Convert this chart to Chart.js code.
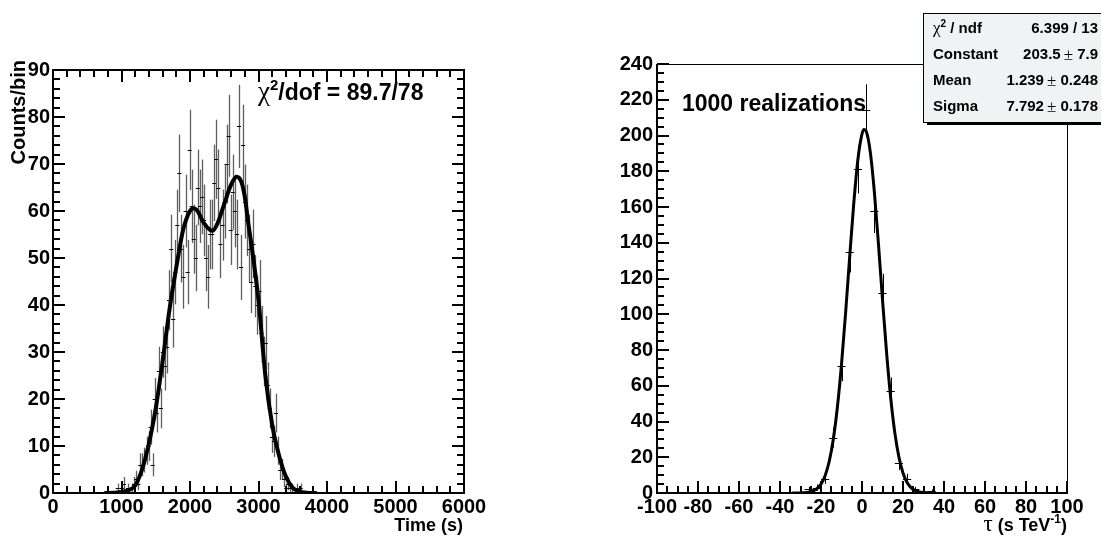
<!DOCTYPE html>
<html>
<head>
<meta charset="utf-8">
<script src="https://cdn.jsdelivr.net/npm/chart.js@4.4.1/dist/chart.umd.min.js"></script>
<style>
  html, body { margin: 0; padding: 0; background: #fff; }
  #wrap { position: relative; width: 1101px; height: 537px; overflow: hidden; }
  canvas { position: absolute; top: 0; }
  #timeChart { left: 0; }
  #tauChart { left: 550px; }
</style>
</head>
<body>
<div id="wrap">
  <canvas id="timeChart" width="550" height="537"></canvas>
  <canvas id="tauChart" width="551" height="537"></canvas>
</div>
<script>
const SANS = "'Liberation Sans', Arial, Helvetica, sans-serif";
const SERIF = "'Liberation Serif', 'DejaVu Serif', serif";

// left panel : counts per 30 s bin (bin centres)
const timeCenters = [
  915, 945, 975, 1005, 1035, 1065, 1095, 1125, 1155, 1185,
  1215, 1245, 1275, 1305, 1335, 1365, 1395, 1425, 1455, 1485,
  1515, 1545, 1575, 1605, 1635, 1665, 1695, 1725, 1755, 1785,
  1815, 1845, 1875, 1905, 1935, 1965, 1995, 2025, 2055, 2085,
  2115, 2145, 2175, 2205, 2235, 2265, 2295, 2325, 2355, 2385,
  2415, 2445, 2475, 2505, 2535, 2565, 2595, 2625, 2655, 2685,
  2715, 2745, 2775, 2805, 2835, 2865, 2895, 2925, 2955, 2985,
  3015, 3045, 3075, 3105, 3135, 3165, 3195, 3225, 3255, 3285,
  3315, 3345, 3375, 3405, 3435, 3465, 3495, 3525, 3555, 3585,
  3615, 3645, 3675,
];
const timeCounts = [
  0, 1, 0, 1, 2, 0, 1, 0, 1, 2,
  3, 2, 6, 6, 7, 9, 10, 14, 6, 20,
  17, 26, 18, 30, 27, 31, 41, 52, 37, 47,
  57, 68, 52, 46, 60, 47, 73, 61, 54, 50,
  65, 61, 63, 58, 50, 46, 55, 55, 66, 71,
  65, 53, 57, 62, 70, 76, 56, 64, 60, 55,
  78, 48, 74, 62, 58, 52, 45, 53, 44, 40,
  43, 34, 28, 32, 23, 18, 12, 11, 17, 9,
  5, 5, 3, 1, 2, 1, 1, 0, 1, 0,
  1, 0, 0,
];
// two-pulse fit
const fitTime = [
  750, 900, 1000, 1100, 1200, 1300, 1400, 1450, 1500, 1600, 1700, 1800,
  1900, 2000, 2050, 2100, 2200, 2300, 2330, 2400, 2500, 2600, 2680, 2750,
  2800, 2850, 2900, 3000, 3100, 3200, 3300, 3400, 3500, 3600, 3700, 3850,
];
const fitCounts = [
  0, 0.05, 0.2, 0.6, 1.6, 5, 10.5, 14, 18, 28, 39, 48,
  56, 60, 60.6, 60.2, 57.5, 55.9, 55.8, 57.3, 61.5, 65.6, 67.3, 66.2,
  63, 57.5, 52.5, 41, 25, 14.5, 8, 3.5, 1.1, 0.3, 0.08, 0,
];
const timeLabels = [0, 1000, 2000, 3000, 4000, 5000, 6000];
const countLabels = [0, 10, 20, 30, 40, 50, 60, 70, 80, 90];

// right panel : 1000 realizations, 4 s/TeV bins
const tauCenters = [-26, -22, -18, -14, -10, -6, -2, 2, 6, 10, 14, 18, 22, 26, 30, 34];
const tauCounts = [2, 3, 8, 31, 71, 135, 181, 214, 158, 112, 57, 17, 8, 2, 0, 1];
const gaussTau = [
  -34, -32, -30, -28, -26, -24, -22, -20, -18, -16, -14, -12, -10, -8, -6, -4, -2, 0,
  1, 2, 4, 6, 8, 10, 12, 14, 16, 18, 20, 22, 24, 26, 28, 30, 32, 34,
];
const gaussCounts = [
  0.01, 0.02, 0.07, 0.18, 0.45, 1.07, 2.38, 4.96, 9.66, 17.6, 30.1, 48.1, 71.9, 100.8, 132.2, 162.3, 186.6, 200.9,
  203.4, 202.5, 191.1, 168.8, 139.7, 108.2, 78.4, 53.2, 33.8, 20.1, 11.2, 5.85, 2.86, 1.31, 0.56, 0.22, 0.08, 0.03,
];
const tauLabels = [-100, -80, -60, -40, -20, 0, 20, 40, 60, 80, 100];
const realLabels = [0, 20, 40, 60, 80, 100, 120, 140, 160, 180, 200, 220, 240];
const statNames = ["Constant", "Mean", "Sigma"];
const statValues = ["203.5", "1.239", "7.792"];
const statErrors = ["7.9", "0.248", "0.178"];

function buildAxis(pos, min, max, step, labels, size, pad) {
  return {
    type: "linear",
    position: pos,
    min: min,
    max: max,
    afterFit: (scale) => {
      if (pos === "left") scale.width = size;
      else scale.height = size;
    },
    grid: { display: false, drawTicks: false },
    border: { display: false },
    ticks: {
      stepSize: step,
      autoSkip: false,
      maxRotation: 0,
      minRotation: 0,
      padding: pad,
      color: "#000",
      font: { family: SANS, size: 20, weight: "bold" },
      callback: (v) => (labels.includes(v) ? String(v) : ""),
    },
  };
}

function drawErrorBars(chart, centers, counts, half, barColor, barWidth) {
  const { ctx, scales: { x, y } } = chart;
  ctx.save();
  centers.forEach((c, i) => {
    const n = counts[i];
    if (n === 0) return;
    const err = Math.sqrt(n);
    const px = Math.round(x.getPixelForValue(c)) + 0.5;
    const py = Math.round(y.getPixelForValue(n)) + 0.5;
    ctx.strokeStyle = barColor;
    ctx.lineWidth = barWidth;
    ctx.beginPath();
    ctx.moveTo(px, y.getPixelForValue(Math.max(n - err, 0)));
    ctx.lineTo(px, y.getPixelForValue(n + err));
    ctx.stroke();
    ctx.strokeStyle = "#000";
    ctx.lineWidth = 1;
    ctx.beginPath();
    ctx.moveTo(x.getPixelForValue(c - half), py);
    ctx.lineTo(x.getPixelForValue(c + half), py);
    ctx.stroke();
  });
  ctx.restore();
}

// ROOT style ticks, pointing into the frame
function drawTicks(chart, scale, side, major, majorLen, minorLen) {
  const { ctx, chartArea: a } = chart;
  ctx.save();
  ctx.strokeStyle = "#000";
  ctx.lineWidth = 2;
  scale.ticks.forEach((t) => {
    const len = t.value % major === 0 ? majorLen : minorLen;
    const p = Math.round(scale.getPixelForValue(t.value));
    ctx.beginPath();
    if (side === "bottom") { ctx.moveTo(p, a.bottom); ctx.lineTo(p, a.bottom - len); }
    if (side === "top") { ctx.moveTo(p, a.top); ctx.lineTo(p, a.top + len); }
    if (side === "left") { ctx.moveTo(a.left, p); ctx.lineTo(a.left + len, p); }
    if (side === "right") { ctx.moveTo(a.right, p); ctx.lineTo(a.right - len, p); }
    ctx.stroke();
  });
  ctx.restore();
}

// text made of pieces with different fonts (greek letters, superscripts)
function drawRuns(ctx, runs, x, y, align) {
  let total = 0;
  runs.forEach((r) => {
    ctx.font = r.font;
    r.w = ctx.measureText(r.text).width + (r.gap || 0);
    total += r.w;
  });
  let cx = align === "right" ? x - total : x;
  ctx.textAlign = "left";
  ctx.textBaseline = "alphabetic";
  runs.forEach((r) => {
    ctx.font = r.font;
    ctx.fillText(r.text, cx + (r.gap || 0), y + (r.dy || 0));
    cx += r.w;
  });
}

const timePanel = {
  id: "timePanel",
  beforeDatasetsDraw(chart) {
    drawErrorBars(chart, timeCenters, timeCounts, 30, "#5e5e5e", 1.3);
  },
  afterDraw(chart) {
    const { ctx, chartArea: a, scales: { x, y } } = chart;
    ctx.save();
    ctx.strokeStyle = "#000";
    ctx.lineWidth = 2;
    ctx.strokeRect(a.left, a.top, a.right - a.left, a.bottom - a.top);
    ctx.restore();
    drawTicks(chart, x, "bottom", 1000, 12, 7);
    drawTicks(chart, x, "top", 1000, 12, 7);
    drawTicks(chart, y, "left", 10, 12, 7);
    drawTicks(chart, y, "right", 10, 12, 7);

    ctx.save();
    ctx.fillStyle = "#000";
    drawRuns(ctx, [
      { text: "χ", font: "27px " + SERIF },
      { text: "2", font: "bold 15px " + SANS, dy: -10 },
      { text: "/dof = 89.7/78", font: "bold 23px " + SANS },
    ], 258, 100, "left");
    drawRuns(ctx, [{ text: "Time (s)", font: "bold 18px " + SANS }], 463, 531, "right");
    ctx.translate(25, 60);
    ctx.rotate(-Math.PI / 2);
    drawRuns(ctx, [{ text: "Counts/bin", font: "bold 20px " + SANS }], 0, 0, "right");
    ctx.restore();
  },
};

const tauPanel = {
  id: "tauPanel",
  beforeDatasetsDraw(chart) {
    drawErrorBars(chart, tauCenters, tauCounts, 2, "#000", 1);
  },
  afterDraw(chart) {
    const { ctx, chartArea: a, scales: { x, y } } = chart;
    ctx.save();
    ctx.strokeStyle = "#000";
    ctx.lineWidth = 1;
    ctx.beginPath();
    ctx.moveTo(a.left, a.top + 0.5);
    ctx.lineTo(a.right + 0.5, a.top + 0.5);
    ctx.lineTo(a.right + 0.5, a.bottom);
    ctx.stroke();
    ctx.lineWidth = 2;
    ctx.beginPath();
    ctx.moveTo(a.left, a.top);
    ctx.lineTo(a.left, a.bottom);
    ctx.lineTo(a.right + 1, a.bottom);
    ctx.stroke();
    ctx.restore();
    drawTicks(chart, x, "bottom", 20, 12, 7);
    drawTicks(chart, y, "left", 20, 12, 7);

    ctx.save();
    ctx.fillStyle = "#000";
    drawRuns(ctx, [{ text: "1000 realizations", font: "bold 23px " + SANS }], 132, 111, "left");
    drawRuns(ctx, [
      { text: "τ", font: "23px " + SERIF },
      { text: " (s TeV", font: "bold 18px " + SANS },
      { text: "-1", font: "bold 12px " + SANS, dy: -8 },
      { text: ")", font: "bold 18px " + SANS },
    ], 517, 531, "right");

    // fit statistics box
    const bx = 373, by = 13, bw = 200, bh = 109;
    ctx.fillStyle = "#000";
    ctx.fillRect(bx + 4, by + bh, bw, 3);
    ctx.fillStyle = "#f0f3f3";
    ctx.fillRect(bx, by, bw, bh);
    ctx.strokeStyle = "#000";
    ctx.lineWidth = 1;
    ctx.strokeRect(bx + 0.5, by + 0.5, bw, bh);
    ctx.fillStyle = "#000";
    const rowY = [33, 59, 85, 111];
    drawRuns(ctx, [
      { text: "χ", font: "17px " + SERIF },
      { text: "2", font: "bold 10px " + SANS, dy: -6 },
      { text: " / ndf", font: "bold 15px " + SANS },
    ], 383, rowY[0], "left");
    drawRuns(ctx, [{ text: "6.399 / 13", font: "bold 15px " + SANS }], 548, rowY[0], "right");
    statNames.forEach((name, i) => {
      drawRuns(ctx, [{ text: name, font: "bold 15px " + SANS }], 383, rowY[i + 1], "left");
      drawRuns(ctx, [
        { text: statValues[i], font: "bold 15px " + SANS },
        { text: "\u00b1", font: "17px " + SERIF, dy: 1, gap: 3 },
        { text: " " + statErrors[i], font: "bold 15px " + SANS },
      ], 548, rowY[i + 1], "right");
    });
    ctx.restore();
  },
};

function lineSet(xs, ys, width) {
  return {
    data: xs.map((v, i) => ({ x: v, y: ys[i] })),
    showLine: true,
    borderColor: "#000",
    borderWidth: width,
    pointRadius: 0,
    cubicInterpolationMode: "monotone",
    fill: false,
  };
}

function baseOptions(pad, xAxis, yAxis) {
  return {
    responsive: false,
    animation: false,
    devicePixelRatio: 1,
    layout: { padding: pad },
    plugins: { legend: { display: false }, tooltip: { enabled: false } },
    scales: { x: xAxis, y: yAxis },
  };
}

document.addEventListener("DOMContentLoaded", () => {
  new Chart(document.getElementById("timeChart"), {
    type: "scatter",
    data: { datasets: [lineSet(fitTime, fitCounts, 4)] },
    options: baseOptions(
      { left: 0, top: 70, right: 86, bottom: 0 },
      buildAxis("bottom", 0, 6000, 200, timeLabels, 44, 2),
      buildAxis("left", 0, 90, 2, countLabels, 53, 3)
    ),
    plugins: [timePanel],
  });

  new Chart(document.getElementById("tauChart"), {
    type: "scatter",
    data: { datasets: [lineSet(gaussTau, gaussCounts, 3)] },
    options: baseOptions(
      { left: 0, top: 64, right: 34, bottom: 0 },
      buildAxis("bottom", -100, 100, 5, tauLabels, 44, 2),
      buildAxis("left", 0, 240, 5, realLabels, 107, 4)
    ),
    plugins: [tauPanel],
  });
});
</script>
</body>
</html>
